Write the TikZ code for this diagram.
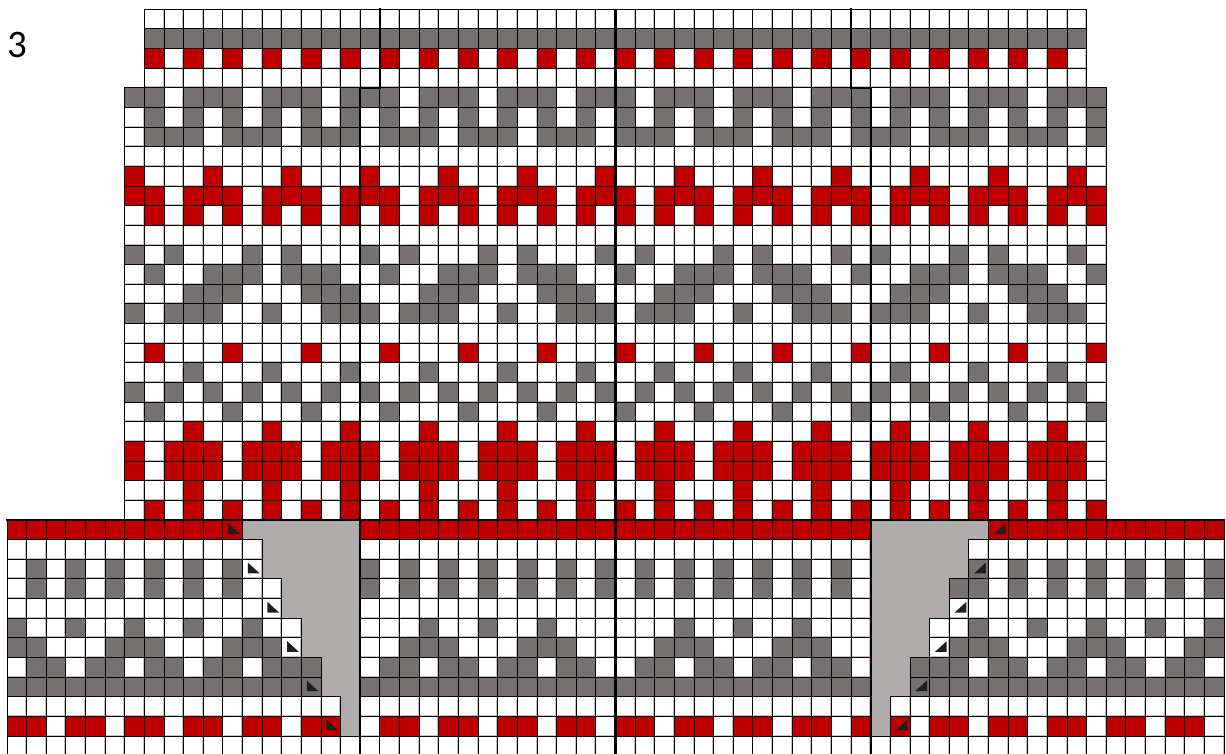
\documentclass[tikz,border=0pt]{standalone}
\usepackage{fontspec}
\setmainfont{Carlito}
\definecolor{chartred}{HTML}{C00000}
\definecolor{chartgrey}{HTML}{767171}
\definecolor{gapgrey}{HTML}{AFABAB}
\definecolor{trimark}{HTML}{1F1F1F}
\definecolor{halogrey}{HTML}{C4C4C4}
\tikzset{
  cellw/.style={fill=white,draw=black,line width=0.95pt},
  cellg/.style={fill=chartgrey,draw=black,line width=0.95pt},
  cellr/.style={fill=chartred,draw=black,line width=0.95pt},
  halow/.style={draw=halogrey,line width=0.9pt},
  halog/.style={draw=none},
  halor/.style={draw=none},
  gapfill/.style={fill=gapgrey,draw=none},
  heavy/.style={draw=black,line width=2.2pt,line cap=rect},
  heavier/.style={draw=black,line width=3pt},
  trimarkstyle/.style={fill=trimark,draw=none},
  chartgrid/.style={x=19.63pt,y=-19.64pt,shift={(7pt,-9.3pt)}}
}
\ExplSyntaxOn
\cs_new:Npn \Rep #1 #2 { \prg_replicate:nn {#1} {#2} }
\ExplSyntaxOff
\newcount\ck
\newcount\cj
\def\rowparse#1{\ifx#1\relax\else
  \path[cell#1] (\the\ck,\the\cj) rectangle ++(1,1);
  \path[halo#1] (\the\ck+0.95,\the\cj+0.05) -- (\the\ck+0.95,\the\cj+0.95) -- (\the\ck+0.05,\the\cj+0.95);
  \advance\ck by 1
  \expandafter\rowparse\fi}
% row, first column, cells
\newcommand\chartrow[3]{\cj=#1\relax\ck=#2\relax
  \edef\rowtmp{#3}\expandafter\rowparse\rowtmp\relax}
\newcommand\tril[2]{\fill[trimarkstyle] (#1+0.27,#2+0.17) -- (#1+0.27,#2+0.72) -- (#1+0.87,#2+0.72) -- cycle;}
\newcommand\trir[2]{\fill[trimarkstyle] (#1+0.87,#2+0.17) -- (#1+0.87,#2+0.72) -- (#1+0.27,#2+0.72) -- cycle;}
\begin{document}
\begin{tikzpicture}[x=1pt,y=-1pt]
\clip (0,0) rectangle (1226,753);
\fill[white] (0,0) rectangle (1226,753);
\node[font=\fontsize{39}{39}\selectfont,inner sep=0pt,anchor=center] (pagenum) at (17.5,45) {3};
\begin{scope}[chartgrid]
% cut-outs
\path[gapfill] (12,26) rectangle (18,37);
\path[gapfill] (44,26) rectangle (50,37);
% top band
\chartrow{0}{7}{\Rep{48}{w}}
\chartrow{1}{7}{\Rep{48}{g}}
\chartrow{2}{7}{\Rep{24}{rw}}
\chartrow{3}{7}{\Rep{48}{w}}
% body
\chartrow{4}{6}{gg\Rep{12}{wggg}}
\chartrow{5}{6}{\Rep{25}{wg}}
\chartrow{6}{6}{\Rep{12}{wggg}wg}
\chartrow{7}{6}{\Rep{50}{w}}
\chartrow{8}{6}{\Rep{12}{rwww}rw}
\chartrow{9}{6}{rr\Rep{12}{wrrr}}
\chartrow{10}{6}{\Rep{25}{wr}}
\chartrow{11}{6}{\Rep{50}{w}}
\chartrow{12}{6}{\Rep{8}{gwgwww}gw}
\chartrow{13}{6}{\Rep{4}{wgwwgggwgggw}wg}
\chartrow{14}{6}{\Rep{8}{wwwggg}ww}
\chartrow{15}{6}{\Rep{4}{gwgggwwgwwgg}gw}
\chartrow{16}{6}{\Rep{50}{w}}
\chartrow{17}{6}{wr\Rep{12}{wwwr}}
\chartrow{18}{6}{www\Rep{11}{gwww}gww}
\chartrow{19}{6}{\Rep{25}{gw}}
\chartrow{20}{6}{wg\Rep{12}{wwwg}}
\chartrow{21}{6}{www\Rep{11}{rwww}rww}
\chartrow{22}{6}{rw\Rep{12}{rrrw}}
\chartrow{23}{6}{rw\Rep{12}{rrrw}}
\chartrow{24}{6}{www\Rep{11}{rwww}rww}
\chartrow{25}{6}{\Rep{25}{wr}}
% left sleeve
\chartrow{26}{0}{\Rep{12}{r}}
\chartrow{27}{0}{\Rep{13}{w}}
\chartrow{28}{0}{\Rep{6}{wg}w}
\chartrow{29}{0}{\Rep{6}{wg}ww}
\chartrow{30}{0}{\Rep{14}{w}}
\chartrow{31}{0}{\Rep{5}{gww}}
\chartrow{32}{0}{ggwwwgggwwwgggw}
\chartrow{33}{0}{\Rep{5}{wgg}g}
\chartrow{34}{0}{\Rep{16}{g}}
\chartrow{35}{0}{\Rep{17}{w}}
\chartrow{36}{0}{\Rep{5}{rrw}rr}
\chartrow{37}{0}{\Rep{18}{w}}
% centre panel
\chartrow{26}{18}{\Rep{26}{r}}
\chartrow{27}{18}{\Rep{26}{w}}
\chartrow{28}{18}{\Rep{13}{gw}}
\chartrow{29}{18}{\Rep{13}{gw}}
\chartrow{30}{18}{\Rep{26}{w}}
\chartrow{31}{18}{wwwgwwgwwgwwwwwwgwwgwwgwww}
\chartrow{32}{18}{wwgggwwwgggwwwwgggwwwgggww}
\chartrow{33}{18}{wggwggwggwggwwggwggwggwggw}
\chartrow{34}{18}{\Rep{26}{g}}
\chartrow{35}{18}{\Rep{26}{w}}
\chartrow{36}{18}{\Rep{8}{wrr}wr}
\chartrow{37}{18}{\Rep{26}{w}}
% right sleeve
\chartrow{26}{50}{\Rep{12}{r}}
\chartrow{27}{49}{\Rep{13}{w}}
\chartrow{28}{49}{\Rep{6}{gw}g}
\chartrow{29}{48}{g\Rep{6}{gw}g}
\chartrow{30}{48}{\Rep{14}{w}}
\chartrow{31}{47}{\Rep{5}{wwg}}
\chartrow{32}{47}{wgggwwwgggwwwgg}
\chartrow{33}{46}{ggg\Rep{4}{wgg}w}
\chartrow{34}{46}{\Rep{16}{g}}
\chartrow{35}{45}{\Rep{17}{w}}
\chartrow{36}{45}{r\Rep{5}{wrr}w}
\chartrow{37}{44}{\Rep{18}{w}}
% decrease marks
\tril{11}{26}\tril{12}{28}\tril{13}{30}\tril{14}{32}\tril{15}{34}\tril{16}{36}
\trir{50}{26}\trir{49}{28}\trir{48}{30}\trir{47}{32}\trir{46}{34}\trir{45}{36}
% heavy section lines
\draw[heavy] (19,0) -- (19,4) -- (18,4) -- (18,39);
\draw[heavy] (43,0) -- (43,4) -- (44,4) -- (44,39);
\draw[heavier] (31,0) -- (31,39);
\draw[heavy] (0,26) -- (62,26);
\end{scope}
\end{tikzpicture}
\end{document}
